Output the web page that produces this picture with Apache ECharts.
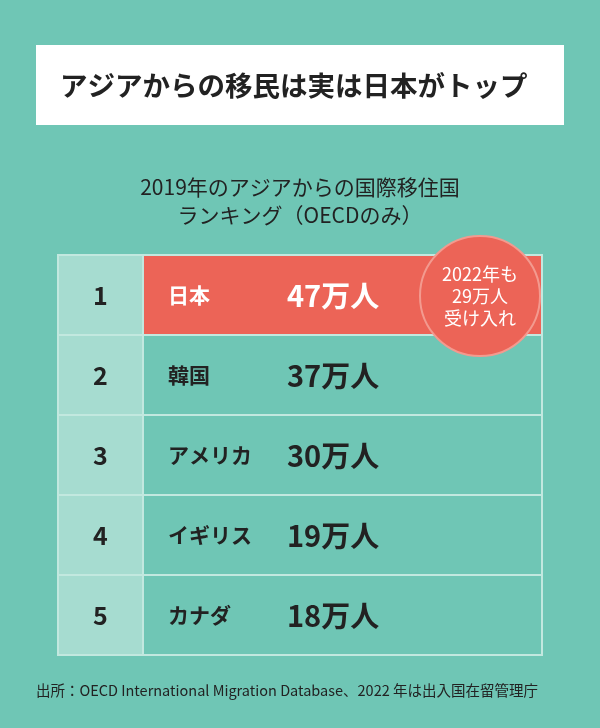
<!DOCTYPE html>
<html><head><meta charset="utf-8">
<script src="https://cdn.jsdelivr.net/npm/echarts@6/dist/echarts.min.js"></script>
<style>html,body{margin:0;padding:0;background:#6fc6b5}#c{width:600px;height:728px}</style>
</head><body><div id="c"></div>
<script>
const ranks = ['1','2','3','4','5'];
const countries = ['日本','韓国','アメリカ','イギリス','カナダ'];
const values = [47,37,30,19,18];
const unit = '万人';
const F = '"Noto Sans CJK JP", sans-serif';
const chart = echarts.init(document.getElementById('c'));
const data = ranks.map((r,i)=>[0,i,countries[i],values[i]]);
chart.setOption({
  backgroundColor:'#6fc6b5',
  animation:false,
  grid:{left:58,right:58,top:255,bottom:73},
  xAxis:{type:'value',min:0,max:1,show:false},
  yAxis:{type:'category',data:ranks,inverse:true,show:false},
  series:[{
    type:'custom',
    data:data,
    renderItem:function(params,api){
      const i=api.value(1);
      const p0=api.coord([0,i]); const p1=api.coord([1,i]);
      const h=api.size([0,1])[1];
      const top=p0[1]-h/2, x0=p0[0], x1=p1[0], w=x1-x0, rw=85;
      const first=i===0;
      return {type:'group',children:[
        {type:'rect',shape:{x:x0,y:top,width:rw,height:h},style:{fill:'#a6dcd0',stroke:'#c2e8df',lineWidth:2}},
        {type:'rect',shape:{x:x0+rw,y:top,width:w-rw,height:h},style:{fill:first?'#ec6457':'#6fc6b5',stroke:'#c2e8df',lineWidth:2}},
        {type:'text',style:{x:x0+rw/2,y:p0[1],text:ranks[i],fill:'#222',font:'bold 25px '+F,align:'center',verticalAlign:'middle'}},
        {type:'text',style:{x:x0+110,y:p0[1],text:api.value(2),fill:first?'#fff':'#222',font:'bold 21px '+F,verticalAlign:'middle'}},
        {type:'text',style:{x:x0+229,y:p0[1]+1,text:api.value(3)+unit,fill:first?'#fff':'#222',font:'bold 29px '+F,verticalAlign:'middle'}}
      ]};
    }
  }],
  graphic:[
    {type:'rect',shape:{x:36,y:45,width:528,height:80},style:{fill:'#fff'}},
    {type:'text',style:{x:60,y:86,text:'アジアからの移民は実は日本がトップ',fill:'#222',font:'bold 27.5px '+F,verticalAlign:'middle'}},
    {type:'text',style:{x:300,y:187,text:'2019年のアジアからの国際移住国',fill:'#222',font:'21px '+F,align:'center',verticalAlign:'middle'}},
    {type:'text',style:{x:300,y:215,text:'ランキング（OECDのみ）',fill:'#222',font:'21px '+F,align:'center',verticalAlign:'middle'}},
    {type:'circle',shape:{cx:480,cy:296,r:60},style:{fill:'#ec6457',stroke:'#f39a8f',lineWidth:2},z:100},
    {type:'text',style:{x:480,y:296,text:'2022年も\n29万人\n受け入れ',fill:'#fff',font:'18px '+F,lineHeight:22,align:'center',verticalAlign:'middle'},z:101},
    {type:'text',style:{x:36,y:690,text:'出所：OECD International Migration Database、2022 年は出入国在留管理庁',fill:'#222',font:'14.5px '+F,verticalAlign:'middle'}}
  ]
});
</script></body></html>
